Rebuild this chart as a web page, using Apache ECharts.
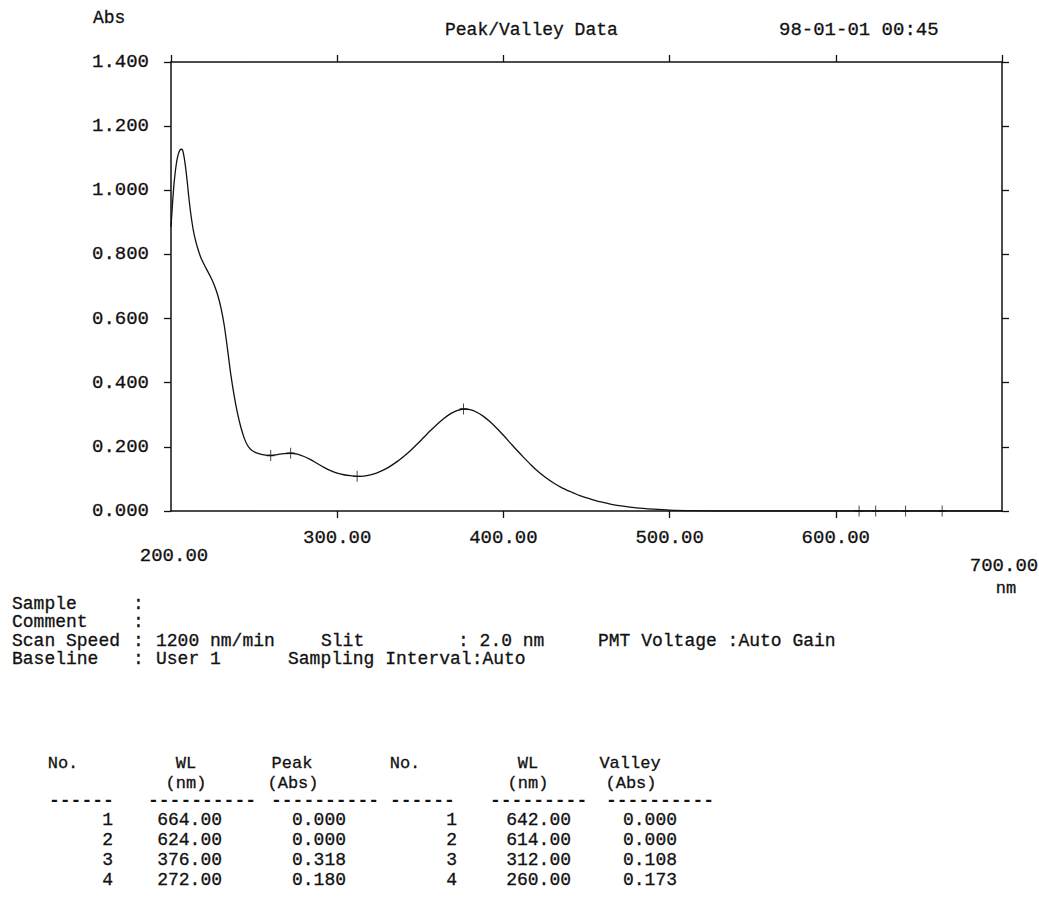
<!DOCTYPE html>
<html>
<head>
<meta charset="utf-8">
<script src="https://cdn.jsdelivr.net/npm/echarts@6/dist/echarts.min.js"></script>
<style>
  html, body { margin: 0; padding: 0; background: #fff; }
  #chart { width: 1039px; height: 910px; }
</style>
</head>
<body>
<div id="chart"></div>
<script>
// Absorbance spectrum, 200-700 nm
const wavelengths = [200, 201, 202, 203, 204, 205, 206, 207, 208, 209.5, 211, 212.5, 214, 216, 218, 220, 222, 224, 226, 228, 230, 232, 234, 236, 238, 240, 242, 244, 246, 248, 251, 255, 260, 264, 268, 272, 276, 280, 284, 288, 292, 296, 300, 304, 308, 312, 316, 320, 324, 328, 332, 336, 340, 344, 348, 352, 356, 360, 364, 368, 372, 376, 380, 384, 388, 392, 396, 400, 404, 408, 412, 416, 420, 425, 430, 435, 440, 446, 452, 458, 465, 472, 480, 490, 500, 515, 530, 560, 600, 614, 624, 642, 664, 700];
const absorbance  = [0.886, 0.965, 1.03, 1.075, 1.105, 1.122, 1.128, 1.125, 1.10, 1.04, 0.965, 0.905, 0.86, 0.82, 0.79, 0.768, 0.748, 0.728, 0.705, 0.675, 0.635, 0.58, 0.505, 0.425, 0.36, 0.305, 0.262, 0.228, 0.205, 0.192, 0.182, 0.176, 0.173, 0.176, 0.179, 0.180, 0.177, 0.170, 0.160, 0.148, 0.136, 0.126, 0.118, 0.113, 0.110, 0.108, 0.109, 0.113, 0.119, 0.128, 0.140, 0.154, 0.170, 0.188, 0.208, 0.229, 0.250, 0.270, 0.288, 0.303, 0.313, 0.318, 0.316, 0.308, 0.295, 0.278, 0.258, 0.236, 0.213, 0.190, 0.168, 0.147, 0.127, 0.106, 0.088, 0.073, 0.061, 0.048, 0.038, 0.029, 0.021, 0.015, 0.010, 0.006, 0.003, 0.001, 0.0, 0.0, 0.0, 0.0, 0.0, 0.0, 0.0, 0.0];

// Peak / valley table
const peakNo     = [1, 2, 3, 4];
const peakWL     = [664.00, 624.00, 376.00, 272.00];
const peakAbs    = [0.000, 0.000, 0.318, 0.180];
const valleyNo   = [1, 2, 3, 4];
const valleyWL   = [642.00, 614.00, 312.00, 260.00];
const valleyAbs  = [0.000, 0.000, 0.108, 0.173];

// Axis ranges and tick labels
const xMin = 200, xMax = 700, xStep = 100;
const yMin = 0, yMax = 1.4, yStep = 0.2;
const xTickLabels = ['200.00', '300.00', '400.00', '500.00', '600.00', '700.00'];

const FONT = 'Liberation Mono';
const INK = '#111111';
const TEXT_STROKE = 0.3;   // slight stroke so the thin mono glyphs print a little heavier

const chart = echarts.init(document.getElementById('chart'), null, { renderer: 'svg' });

const lineData = wavelengths.map((w, i) => [w, absorbance[i]]);
const markData = peakWL.map((w, i) => [w, peakAbs[i]])
  .concat(valleyWL.map((w, i) => [w, valleyAbs[i]]));

const plusPath = 'path://M4.4,0h1.2v10h-1.2z M0,4.4h10v1.2h-10z';

function axisLine() { return { show: true, onZero: false, lineStyle: { color: INK, width: 1.5 } }; }
function axisTick() { return { show: true, inside: false, length: 7, lineStyle: { color: INK, width: 1.3 } }; }

function txt(x, y, text, opts) {
  opts = opts || {};
  return {
    type: 'text', x: x, y: y, silent: true,
    style: {
      text: text,
      font: (opts.weight || 'normal') + ' ' + (opts.size || 18) + 'px "' + FONT + '"',
      fill: INK,
      stroke: INK,
      lineWidth: opts.weight === 'bold' ? 0 : TEXT_STROKE,
      textAlign: opts.align || 'left',
      textVerticalAlign: 'middle'
    }
  };
}

function xLabelText(v) {
  const i = Math.round((v - xMin) / xStep);
  return xTickLabels[i] || '';
}

const labelStyle = {
  color: INK, fontFamily: FONT, fontSize: 19,
  textBorderColor: INK, textBorderWidth: TEXT_STROKE
};

chart.setOption({
  animation: false,
  backgroundColor: '#ffffff',
  grid: { left: 171, top: 62, width: 831, height: 449, containLabel: false },
  xAxis: [
    {
      type: 'value', min: xMin, max: xMax, interval: xStep, position: 'bottom',
      axisLine: axisLine(), axisTick: axisTick(), splitLine: { show: false },
      axisLabel: Object.assign({
        show: true, margin: 17,
        showMinLabel: false, showMaxLabel: false,
        formatter: xLabelText
      }, labelStyle)
    },
    {
      type: 'value', min: xMin, max: xMax, interval: xStep, position: 'top',
      axisLine: axisLine(), axisTick: axisTick(), splitLine: { show: false },
      axisLabel: { show: false }
    }
  ],
  yAxis: [
    {
      type: 'value', min: yMin, max: yMax, interval: yStep, position: 'left',
      axisLine: axisLine(), axisTick: axisTick(), splitLine: { show: false },
      axisLabel: Object.assign({
        show: true, margin: 22,
        formatter: v => v.toFixed(3)
      }, labelStyle)
    },
    {
      type: 'value', min: yMin, max: yMax, interval: yStep, position: 'right',
      axisLine: axisLine(), axisTick: axisTick(), splitLine: { show: false },
      axisLabel: { show: false }
    }
  ],
  series: [
    {
      type: 'line', data: lineData, showSymbol: false, smooth: 0.3,
      lineStyle: { color: INK, width: 1.3 }, clip: true, z: 3
    },
    {
      type: 'scatter', data: markData, symbol: plusPath, symbolSize: [8, 11],
      itemStyle: { color: INK }, z: 4
    }
  ]
});

// Text around the chart: header, end labels of the wavelength axis, run info and the table
const g = [];
g.push(txt(93, 18, 'Abs'));
g.push(txt(445, 30, 'Peak/Valley Data'));
g.push(txt(779, 30, '98-01-01 00:45', { size: 19 }));

const px200 = chart.convertToPixel({ xAxisIndex: 0 }, xMin);
const px700 = chart.convertToPixel({ xAxisIndex: 0 }, xMax);
g.push(txt(px200 + 3, 556, xTickLabels[0], { size: 19, align: 'center' }));
g.push(txt(px700 + 2, 566, xTickLabels[xTickLabels.length - 1], { size: 19, align: 'center' }));
g.push(txt(px700 + 4, 588, 'nm', { size: 17, align: 'center' }));

const infoSize = 18;
const colonX = 133, valueX = 156;
g.push(txt(12, 604, 'Sample', { size: infoSize }));
g.push(txt(colonX, 604, ':', { size: infoSize }));
g.push(txt(12, 622, 'Comment', { size: infoSize }));
g.push(txt(colonX, 622, ':', { size: infoSize }));
g.push(txt(12, 641, 'Scan Speed', { size: infoSize }));
g.push(txt(colonX, 641, ':', { size: infoSize }));
g.push(txt(valueX, 641, '1200 nm/min', { size: infoSize }));
g.push(txt(321, 641, 'Slit', { size: infoSize }));
g.push(txt(458, 641, ': 2.0 nm', { size: infoSize }));
g.push(txt(598, 641, 'PMT Voltage :Auto Gain', { size: infoSize }));
g.push(txt(12, 659, 'Baseline', { size: infoSize }));
g.push(txt(colonX, 659, ':', { size: infoSize }));
g.push(txt(valueX, 659, 'User 1', { size: infoSize }));
g.push(txt(288, 659, 'Sampling Interval:Auto', { size: infoSize }));

// Table header
const hs = 17;
g.push(txt(63, 763, 'No.', { size: hs, align: 'center' }));
g.push(txt(186, 763, 'WL', { size: hs, align: 'center' }));
g.push(txt(186, 783, '(nm)', { size: hs, align: 'center' }));
g.push(txt(292, 763, 'Peak', { size: hs, align: 'center' }));
g.push(txt(293, 783, '(Abs)', { size: hs, align: 'center' }));
g.push(txt(405, 763, 'No.', { size: hs, align: 'center' }));
g.push(txt(528, 763, 'WL', { size: hs, align: 'center' }));
g.push(txt(528, 783, '(nm)', { size: hs, align: 'center' }));
g.push(txt(630, 763, 'Valley', { size: hs, align: 'center' }));
g.push(txt(631, 783, '(Abs)', { size: hs, align: 'center' }));

// Dashed rules under the header
const rules = [[49, '------'], [148, '----------'], [271, '----------'], [390, '------'], [490, '---------'], [606, '----------']];
rules.forEach(r => g.push(txt(r[0], 801, r[1], { size: 18, weight: 'bold' })));

// Table rows
const rowY = [820, 840, 860, 880];
const ts = 18;
peakNo.forEach((n, i) => {
  g.push(txt(113, rowY[i], String(n), { size: ts, align: 'right' }));
  g.push(txt(222, rowY[i], peakWL[i].toFixed(2), { size: ts, align: 'right' }));
  g.push(txt(346, rowY[i], peakAbs[i].toFixed(3), { size: ts, align: 'right' }));
});
valleyNo.forEach((n, i) => {
  g.push(txt(457, rowY[i], String(n), { size: ts, align: 'right' }));
  g.push(txt(571, rowY[i], valleyWL[i].toFixed(2), { size: ts, align: 'right' }));
  g.push(txt(677, rowY[i], valleyAbs[i].toFixed(3), { size: ts, align: 'right' }));
});

chart.setOption({ graphic: { elements: g } });
</script>
</body>
</html>
